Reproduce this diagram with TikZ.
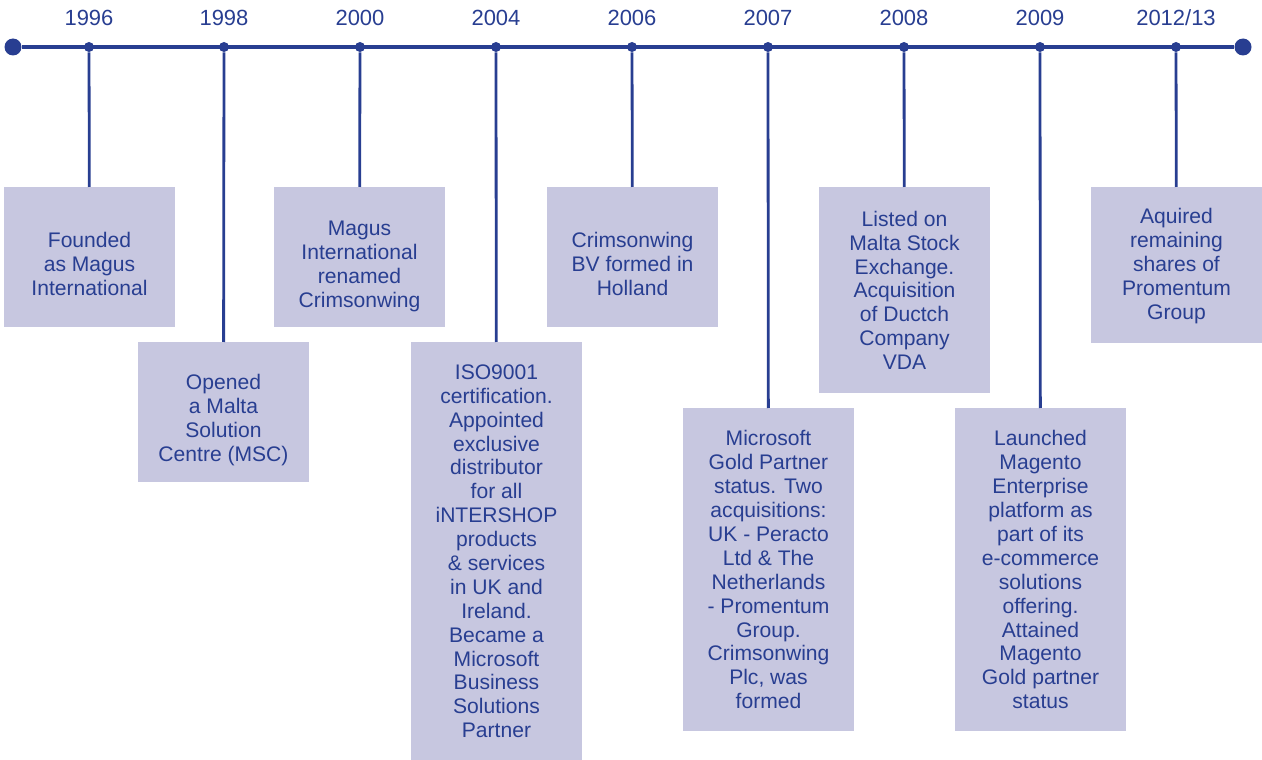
\documentclass[tikz,border=0pt]{standalone}
\usepackage{fontspec}
\setmainfont{Liberation Sans}
\usetikzlibrary{positioning}
\definecolor{lineblue}{RGB}{40,62,145}
\definecolor{boxlilac}{RGB}{199,199,224}

\begin{document}
\begin{tikzpicture}[x=0.02cm,y=-0.02cm]
    \tikzstyle{event box}=[fill=boxlilac,text=lineblue,align=center,anchor=north,minimum width=3.42cm,inner sep=0,font=\fontsize{12}{13.6}\selectfont]
    \tikzstyle{short box}=[event box,minimum height=2.8cm]
    \tikzstyle{year}=[text=lineblue,font=\fontsize{12.5}{14}\selectfont]
    \tikzstyle{small dot}=[circle,fill=lineblue,inner sep=0,minimum size=0.2cm]
    \tikzstyle{end dot}=[circle,fill=lineblue,inner sep=0,minimum size=0.34cm]
    \tikzstyle{stem}=[draw=lineblue,line width=1.6pt]

    \useasboundingbox (0,0) rectangle (1262,760);

    % the time axis
    \node(start)[end dot] at (13,47){};
    \node(stop)[end dot] at (1243,47){};
    \draw[lineblue,line width=2.4pt] (start) -- (stop);

    \foreach \x/\yr [count=\i] in {89/1996,224/1998,360/2000,496/2004,632/2006,768/2007,904/2008,1040/2009,1176/2012\slash13}{
        \node(d\i)[small dot] at (\x,47){};
        \node(y\i)[year,above=0.19cm of d\i]{\yr};
    }

    % one box per year (text height pushes the short texts a bit lower)
    \node(b1)[short box,text height=43.5pt] at (89.5,187){Founded\\as Magus\\International};
    \node(b2)[short box,text height=58.5pt] at (223.5,342){Opened\\a Malta\\Solution\\Centre (MSC)};
    \node(b3)[short box,text height=59.5pt] at (359.5,187){Magus\\International\\renamed\\Crimsonwing};
    \node(b4)[event box,minimum height=8.36cm] at (496.5,342){ISO9001\\certification.\\Appointed\\exclusive\\distributor\\for all\\iNTERSHOP\\products\\\& services\\in UK and\\Ireland.\\Became a\\Microsoft\\Business\\Solutions\\Partner};
    \node(b5)[short box,text height=43.5pt] at (632.5,187){Crimsonwing\\BV formed in\\Holland};
    \node(b6)[event box,minimum height=6.46cm] at (768.5,408){Microsoft\\Gold Partner\\status. Two\\acquisitions:\\UK - Peracto\\Ltd \& The\\Netherlands\\- Promentum\\Group.\\Crimsonwing\\Plc, was\\formed};
    \node(b7)[event box,minimum height=4.12cm] at (904.5,187){Listed on\\Malta Stock\\Exchange.\\Acquisition\\of Ductch\\Company\\VDA};
    \node(b8)[event box,minimum height=6.46cm] at (1040.5,408){Launched\\Magento\\Enterprise\\platform as\\part of its\\e-commerce\\solutions\\offering.\\Attained\\Magento\\Gold partner\\status};
    \node(b9)[event box,minimum height=3.12cm,text height=64pt] at (1176.5,187){Aquired\\remaining\\shares of\\Promentum\\Group};

    \foreach \i in {1,...,9}
        \draw[stem] (d\i) -- (b\i);
\end{tikzpicture}
\end{document}
